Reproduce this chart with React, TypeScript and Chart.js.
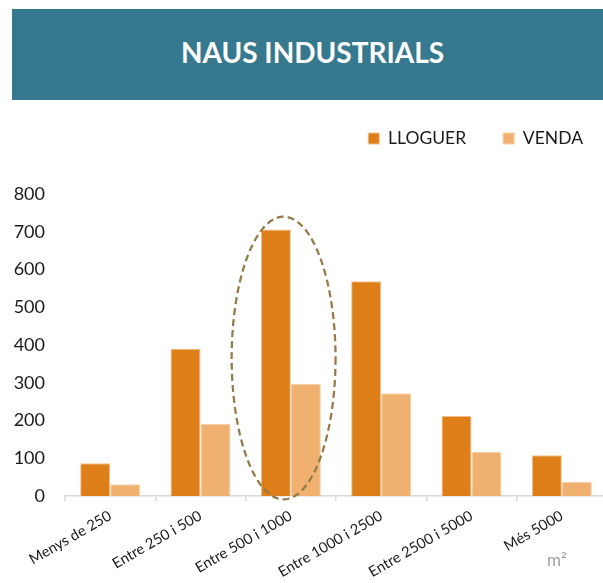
import React, { useEffect, useRef } from "react";
import { Chart, registerables } from "chart.js";

Chart.register(...registerables);

const title = "NAUS INDUSTRIALS";
const categories = [
  "Menys de 250",
  "Entre 250 i 500",
  "Entre 500 i 1000",
  "Entre 1000 i 2500",
  "Entre 2500 i 5000",
  "Més 5000",
];
const seriesNames = ["LLOGUER", "VENDA"];
const lloguer = [87, 390, 706, 569, 212, 108];
const venda = [31, 191, 297, 272, 117, 38];
const yMin = 0;
const yMax = 800;
const yStep = 100;
const unitLabel = "m²";
const highlightIndex = 2;

const FONT = "Lato, 'Open Sans', sans-serif";

const ellipsePlugin = {
  id: "highlightEllipse",
  afterDatasetsDraw(chart: any) {
    const xs = chart.scales.x;
    const ys = chart.scales.y;
    const ctx = chart.ctx;
    const cw = xs.width / categories.length;
    const cx = xs.getPixelForValue(highlightIndex) - cw * 0.08;
    const rx = cw * 0.575;
    const top = ys.getPixelForValue(740);
    const bottom = ys.getPixelForValue(-9);
    ctx.save();
    ctx.beginPath();
    ctx.ellipse(cx, (top + bottom) / 2, rx, (bottom - top) / 2, 0, 0, Math.PI * 2);
    ctx.setLineDash([7, 4]);
    ctx.lineWidth = 2.25;
    ctx.strokeStyle = "#957A48";
    ctx.stroke();
    ctx.restore();
  },
};

const legendShiftPlugin = {
  id: "legendShift",
  afterLayout(chart: any) {
    const lg = chart.legend;
    if (!lg) return;
    const dy = 92.75 - lg.top;
    lg.top += dy;
    lg.bottom += dy;
    lg.left += 13;
    lg.right += 13;
  },
};

export default function App() {
  const ref = useRef<HTMLCanvasElement>(null);

  useEffect(() => {
    if (!ref.current) return;
    const chart = new Chart(ref.current, {
      type: "bar",
      data: {
        labels: categories,
        datasets: [
          {
            label: seriesNames[0],
            data: lloguer,
            backgroundColor: "#DE7E18",
            borderColor: "#F2BE8A",
            borderWidth: 1,
          },
          {
            label: seriesNames[1],
            data: venda,
            backgroundColor: "#F0B170",
            borderColor: "#F7CFA5",
            borderWidth: 1,
          },
        ],
      },
      options: {
        responsive: false,
        animation: false,
        layout: { padding: { top: 129.5, right: 15, bottom: 0, left: 0 } },
        datasets: {
          bar: { categoryPercentage: 0.664, barPercentage: 1 },
        },
        plugins: {
          title: { display: false },
          tooltip: { enabled: false },
          legend: {
            position: "top",
            align: "end",
            labels: {
              boxWidth: 11,
              boxHeight: 11,
              padding: 37,
              color: "#1a1a1a",
              font: { family: FONT, size: 17.5 },
            },
          },
        },
        scales: {
          x: {
            grid: {
              display: true,
              drawOnChartArea: false,
              drawTicks: true,
              tickLength: 5,
              color: "#D9D9D9",
              lineWidth: 1.5,
            },
            border: { display: true, color: "#D9D9D9", width: 1.5 },
            ticks: {
              autoSkip: false,
              minRotation: 30,
              maxRotation: 30,
              padding: 6,
              color: "#1a1a1a",
              font: { family: FONT, size: 14.7 },
            },
            afterFit(scale: any) {
              scale.height = 87;
            },
          },
          y: {
            min: yMin,
            max: yMax,
            grid: { display: false, drawTicks: false },
            border: { display: false },
            ticks: {
              stepSize: yStep,
              padding: 20,
              color: "#1a1a1a",
              font: { family: FONT, size: 18 },
            },
            afterFit(scale: any) {
              scale.width = 65;
            },
          },
        },
      },
      plugins: [ellipsePlugin, legendShiftPlugin],
    });
    return () => chart.destroy();
  }, []);

  return (
    <div
      style={{
        position: "fixed",
        left: 0,
        top: 0,
        width: 603,
        height: 583,
        overflow: "hidden",
        background: "#ffffff",
      }}
    >
      <canvas ref={ref} width={622} height={583} style={{ position: "absolute", left: 0, top: 0 }} />
      <div
        style={{
          position: "absolute",
          left: 12,
          top: 9,
          width: 591,
          height: 91,
          background: "#36798F",
          color: "#ffffff",
          display: "flex",
          alignItems: "center",
          justifyContent: "center",
          fontFamily: FONT,
          fontWeight: 700,
          fontSize: 28,
        }}
      >
        <span style={{ position: "relative", top: -3, left: 5 }}>{title}</span>
      </div>
      <div
        style={{
          position: "absolute",
          left: 547,
          top: 549,
          fontFamily: FONT,
          fontSize: 17,
          color: "#A0A0A0",
        }}
      >
        {unitLabel}
      </div>
    </div>
  );
}
